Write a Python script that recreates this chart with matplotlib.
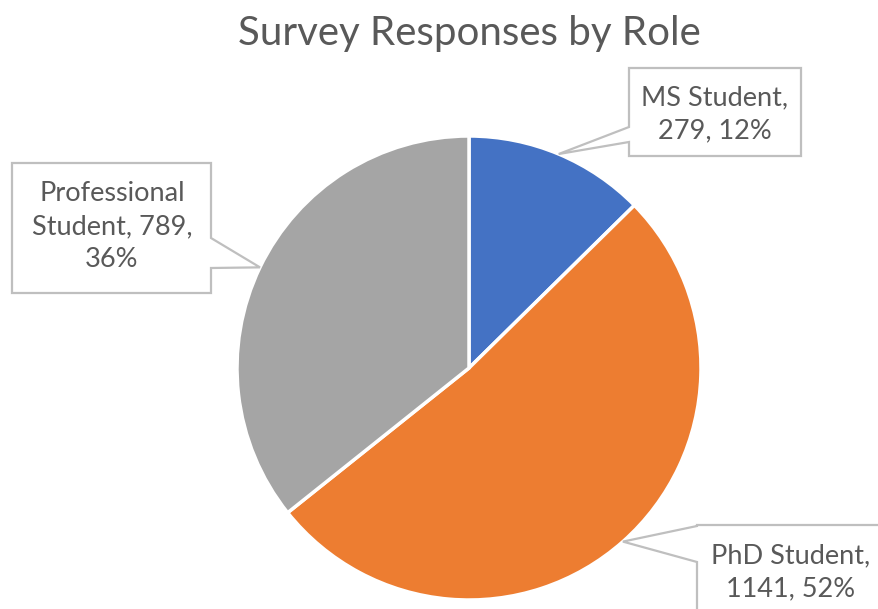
import numpy as np
import matplotlib.pyplot as plt
from matplotlib.patches import Polygon

# data
roles = ["MS Student", "PhD Student", "Professional Student"]
counts = [279, 1141, 789]
pct_labels = ["12%", "52%", "36%"]
label_texts = ["MS Student,\n279, 12%", "PhD Student,\n1141, 52%",
               "Professional\nStudent, 789,\n36%"]
colors = ["#4472C4", "#ED7D31", "#A5A5A5"]

W, H = 879, 609
TXT = "#595959"
EDGE = "#BFBFBF"
FONT = "Lato"
LBL_SIZE = 19.5
LS = 1.4

fig = plt.figure(figsize=(W / 100, H / 100), dpi=100)
ax = fig.add_axes([0, 0, 1, 1])

cx, cy, r = 469, H - 368, 232
wedges, _ = ax.pie(counts, colors=colors, startangle=90, counterclock=False,
                   center=(cx, cy), radius=r,
                   wedgeprops=dict(edgecolor="white", linewidth=2.5))
ax.set_xlim(0, W)
ax.set_ylim(0, H)
ax.set_aspect("equal")
ax.axis("off")


def tip_of(w):
    ang = np.deg2rad((w.theta1 + w.theta2) / 2)
    return cx + r * np.cos(ang), cy + r * np.sin(ang)


def callout(x0, ytop, x1, ybot, side, a, b, tip):
    # pixel coords (y down) -> data (y up)
    f = lambda x, y: (x, H - y)
    if side == "left":
        pts = [(x0, ytop), (x1, ytop), (x1, ybot), (x0, ybot), (x0, b), tip, (x0, a)]
    else:
        pts = [(x0, ytop), (x1, ytop), (x1, a), tip, (x1, b), (x1, ybot), (x0, ybot)]
    pts = [f(x, y) if (x, y) != tip else tip for x, y in pts]
    ax.add_patch(Polygon(pts, closed=True, facecolor="white", edgecolor=EDGE,
                         linewidth=1.6, zorder=5))


tips = [tip_of(w) for w in wedges]

# MS Student
callout(629, 68, 801, 156, "left", 127, 142, tips[0])
ax.text(715, H - 114, label_texts[0], ha="center", va="center", fontsize=LBL_SIZE,
        color=TXT, family=FONT, linespacing=LS, zorder=6)
# PhD Student
callout(697, 525, 895, 640, "left", 526, 562, tips[1])
ax.text(791, H - 572, label_texts[1], ha="center", va="center", fontsize=LBL_SIZE,
        color=TXT, family=FONT, linespacing=LS, zorder=6)
# Professional Student
callout(12, 163, 211, 293, "right", 238, 268, tips[2])
ax.text(112, H - 227, label_texts[2], ha="center", va="center", fontsize=LBL_SIZE,
        color=TXT, family=FONT, linespacing=LS, zorder=6)

ax.text(469, H - 33, "Survey Responses by Role", ha="center", va="center",
        fontsize=29, color=TXT, family=FONT)

fig.savefig("out.png", dpi=100)
